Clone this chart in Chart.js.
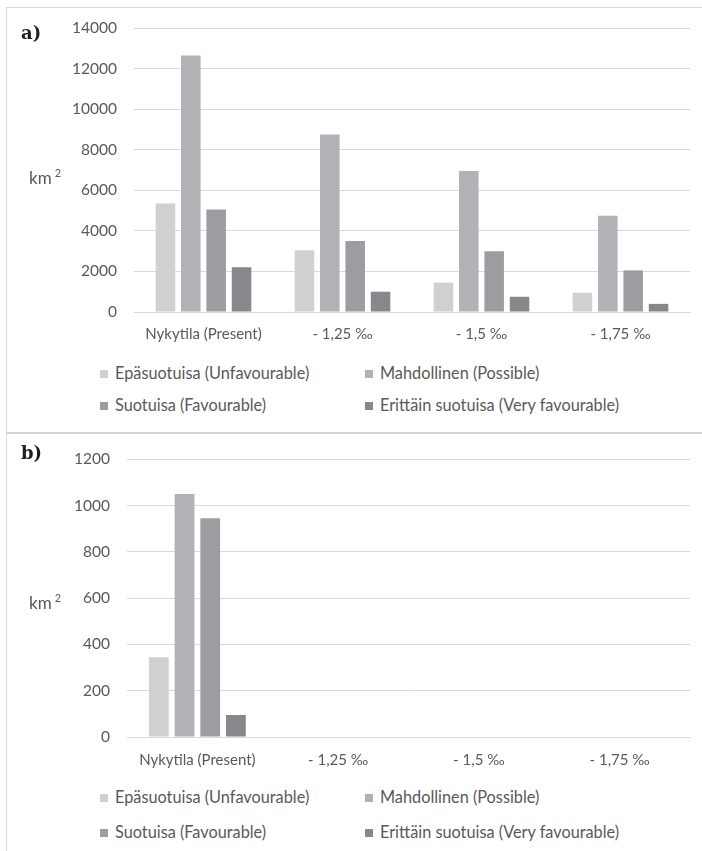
<!DOCTYPE html>
<html lang="fi">
<head>
<meta charset="UTF-8">
<title>Suotuisuus km2</title>
<style>
  body{margin:0;background:#fff;font-family:Lato,sans-serif;color:#595959;}
  .wrap{position:relative;width:702px;height:851px;overflow:hidden;}
  .frame{position:absolute;left:6px;top:7px;width:700px;height:850px;border-top:1px solid #d9d9d9;border-left:1px solid #d9d9d9;}
  .sep{position:absolute;left:6px;top:432px;width:696px;height:2px;background:#d4d4d4;}
  canvas{position:absolute;left:0;}
  .tag{position:absolute;left:21px;font:bold 18px "DejaVu Serif",serif;color:#1e1e1e;line-height:20px;}
  .unit{position:absolute;left:29px;font-size:17px;line-height:18px;}
  .unit sup{font-size:11px;margin-left:3px;}
  .lg{position:absolute;font-size:16.3px;line-height:18px;white-space:nowrap;}
  .lg i{display:inline-block;width:8px;height:8px;margin-right:7px;vertical-align:1px;}
</style>
</head>
<body>
<div class="wrap">
  <div class="frame"></div>
  <div class="sep"></div>
  <canvas id="cA" width="702" height="350" style="top:0"></canvas>
  <canvas id="cB" width="702" height="342" style="top:433px"></canvas>
  <div class="tag" style="top:23px">a)</div>
  <div class="tag" style="top:443px">b)</div>
  <div class="unit" style="top:164px">km<sup>2</sup></div>
  <div class="unit" style="top:589px">km<sup>2</sup></div>
  <div id="legendA"></div>
  <div id="legendB"></div>
</div>

<script src="https://cdn.jsdelivr.net/npm/chart.js"></script>
<script>
"use strict";

// data
const categories = ["Nykytila (Present)", "- 1,25 ‰", "- 1,5 ‰", "- 1,75 ‰"];
const seriesNames = ["Epäsuotuisa (Unfavourable)", "Mahdollinen (Possible)", "Suotuisa (Favourable)", "Erittäin suotuisa (Very favourable)"];

const unfavA   = [5350, 3050, 1450, 950];
const possibleA = [12650, 8750, 6950, 4750];
const favA     = [5050, 3500, 3000, 2050];
const veryFavA = [2200, 1000, 750, 400];

const unfavB   = [345, 0, 0, 0];
const possibleB = [1050, 0, 0, 0];
const favB     = [945, 0, 0, 0];
const veryFavB = [95, 0, 0, 0];

const yTicksA = [0, 2000, 4000, 6000, 8000, 10000, 12000, 14000];
const yTicksB = [0, 200, 400, 600, 800, 1000, 1200];

// styles
const barColors = ["#d0d0d1", "#b1b2b5", "#9c9da0", "#87888b"];
const textColor = "#595959";
const gridColor = "#d9d9d9";

function makeChart(id, series, ticks, box){
     const ctx = document.getElementById(id);
     return new Chart(ctx, {
          type: "bar",
          data: {
               labels: categories,
               datasets: series.map((s, i) => ({
                    label: seriesNames[i],
                    data: s,
                    backgroundColor: barColors[i],
                    borderWidth: 0,
                    categoryPercentage: 0.73,
                    barPercentage: 0.77
               }))
          },
          options: {
               responsive: false,
               animation: false,
               devicePixelRatio: 1,
               layout: { padding: { left: 0, right: 12, top: box.top, bottom: 0 } },
               plugins: { legend: { display: false }, tooltip: { enabled: false } },
               scales: {
                    x: {
                         grid: { display: false, drawTicks: false },
                         border: { display: true, color: gridColor },
                         ticks: { color: textColor, font: { family: "Lato", size: 15 }, padding: box.xPad, maxRotation: 0 },
                         afterFit(scale){ scale.height = 38; }
                    },
                    y: {
                         min: ticks[0],
                         max: ticks[ticks.length - 1],
                         afterBuildTicks(scale){ scale.ticks = ticks.map(v => ({ value: v })); },
                         grid: { color: gridColor, drawTicks: false },
                         border: { display: false },
                         ticks: { color: textColor, font: { family: "Lato", size: 15.5 }, padding: 17, callback: v => String(v) },
                         afterFit(scale){ scale.width = box.left; }
                    }
               }
          }
     });
}

function makeLegend(id, rowsY){
     const el = document.getElementById(id);
     seriesNames.forEach((name, i) => {
          const d = document.createElement("div");
          d.className = "lg";
          d.style.left = (100 + (i % 2) * 265) + "px";
          d.style.top = (rowsY[Math.floor(i / 2)] - 9) + "px";
          d.innerHTML = '<i style="background:' + barColors[i] + '"></i>' + name;
          el.appendChild(d);
     });
}

makeChart("cA", [unfavA, possibleA, favA, veryFavA], yTicksA, { top: 28, left: 134, xPad: 13 });
makeChart("cB", [unfavB, possibleB, favB, veryFavB], yTicksB, { top: 21, left: 127, xPad: 14 });

makeLegend("legendA", [373, 405]);
makeLegend("legendB", [797, 832]);
</script>
</body>
</html>
